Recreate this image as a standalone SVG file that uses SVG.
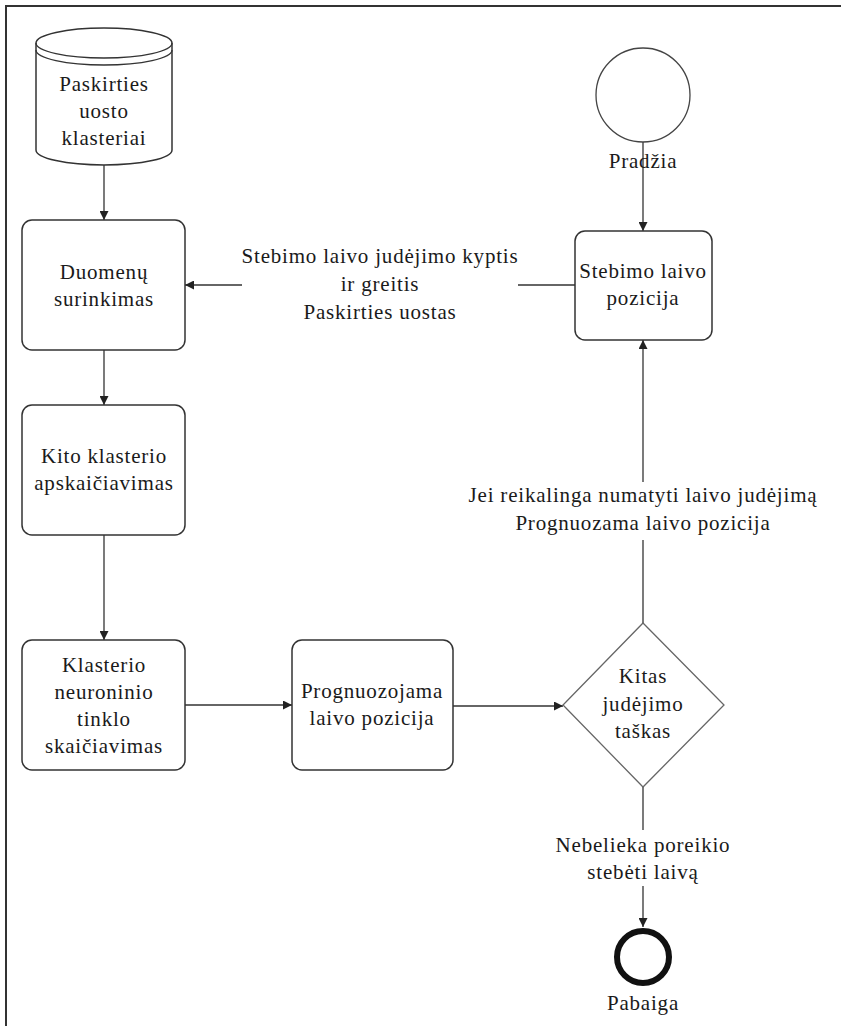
<svg xmlns="http://www.w3.org/2000/svg" width="841" height="1026" viewBox="0 0 841 1026" font-family="Liberation Serif, DejaVu Serif, serif">
<style>
text{font-family:"Liberation Serif","Times New Roman",serif}
.t{font-size:21px;letter-spacing:0.8px;fill:#1a1a1a;text-anchor:middle}
.box{fill:#fff;stroke:#333;stroke-width:1.5}
.ln{fill:none;stroke:#333;stroke-width:1.3}
</style>
<defs>
<marker id="ar" viewBox="0 0 10 10" refX="10" refY="5" markerWidth="9" markerHeight="9" markerUnits="userSpaceOnUse" orient="auto">
<path d="M0,0 L10,5 L0,10 z" fill="#222"/>
</marker>
</defs>
<rect width="841" height="1026" fill="#fff"/>
<path d="M6,1026 V6 H841" fill="none" stroke="#333" stroke-width="2"/>

<g id="connectors">
<line class="ln" x1="104" y1="165" x2="104" y2="220" marker-end="url(#ar)"/>
<line class="ln" x1="104" y1="350" x2="104" y2="405" marker-end="url(#ar)"/>
<line class="ln" x1="104" y1="535" x2="104" y2="640" marker-end="url(#ar)"/>
<line class="ln" x1="185" y1="705" x2="292" y2="705" marker-end="url(#ar)"/>
<line class="ln" x1="453" y1="706" x2="563" y2="706" marker-end="url(#ar)"/>
<line class="ln" x1="643" y1="142" x2="643" y2="231" marker-end="url(#ar)"/>
<line class="ln" x1="575" y1="285" x2="518" y2="285"/>
<line class="ln" x1="242" y1="285" x2="185" y2="285" marker-end="url(#ar)"/>
<line class="ln" x1="643" y1="623" x2="643" y2="540"/>
<line class="ln" x1="643" y1="482" x2="643" y2="340" marker-end="url(#ar)"/>
<line class="ln" x1="643" y1="787" x2="643" y2="830"/>
<line class="ln" x1="643" y1="886" x2="643" y2="927" marker-end="url(#ar)"/>
<text class="t" x="380" y="263">Stebimo laivo judėjimo kyptis</text>
<text class="t" x="380" y="291">ir greitis</text>
<text class="t" x="380" y="319">Paskirties uostas</text>
<text class="t" x="643" y="502">Jei reikalinga numatyti laivo judėjimą</text>
<text class="t" x="643" y="530">Prognuozama laivo pozicija</text>
<text class="t" x="643" y="852">Nebelieka poreikio</text>
<text class="t" x="643" y="879">stebėti laivą</text>
</g>

<g id="cylinder">
<path class="box" d="M36,43 V150 A68,15 0 0 0 172,150 V43 A68,15 0 0 0 36,43 z"/>
<path class="ln" d="M36,43 A68,15 0 0 0 172,43"/>
<path class="ln" d="M36,50 A68,15 0 0 0 172,50"/>
<text class="t" x="104" y="91">Paskirties</text>
<text class="t" x="104" y="118">uosto</text>
<text class="t" x="104" y="145">klasteriai</text>
</g>

<g id="duomenu">
<rect class="box" x="22" y="220" width="163" height="130" rx="10"/>
<text class="t" x="104" y="279">Duomenų</text>
<text class="t" x="104" y="306">surinkimas</text>
</g>

<g id="kito">
<rect class="box" x="22" y="405" width="163" height="130" rx="10"/>
<text class="t" x="104" y="463">Kito klasterio</text>
<text class="t" x="104" y="490">apskaičiavimas</text>
</g>

<g id="klasterio">
<rect class="box" x="22" y="640" width="163" height="130" rx="10"/>
<text class="t" x="104" y="672">Klasterio</text>
<text class="t" x="104" y="699">neuroninio</text>
<text class="t" x="104" y="726">tinklo</text>
<text class="t" x="104" y="753">skaičiavimas</text>
</g>

<g id="prognuozojama">
<rect class="box" x="292" y="640" width="161" height="130" rx="10"/>
<text class="t" x="372" y="698">Prognuozojama</text>
<text class="t" x="372" y="725">laivo pozicija</text>
</g>

<g id="kitas">
<polygon points="643,623 724,705 643,787 563,705" fill="#fff" stroke="#666" stroke-width="1.3"/>
<text class="t" x="643" y="683">Kitas</text>
<text class="t" x="643" y="711">judėjimo</text>
<text class="t" x="643" y="738">taškas</text>
</g>

<g id="stebimo">
<rect class="box" x="575" y="231" width="137" height="109" rx="10"/>
<text class="t" x="643" y="278">Stebimo laivo</text>
<text class="t" x="643" y="305">pozicija</text>
</g>

<g id="pradzia">
<circle cx="643" cy="95" r="47" fill="#fff" stroke="#444" stroke-width="1.3"/>
<text class="t" x="643" y="168">Pradžia</text>
</g>

<g id="pabaiga">
<circle cx="643" cy="957" r="26" fill="#fff" stroke="#111" stroke-width="6"/>
<text class="t" x="643" y="1010">Pabaiga</text>
</g>
</svg>
